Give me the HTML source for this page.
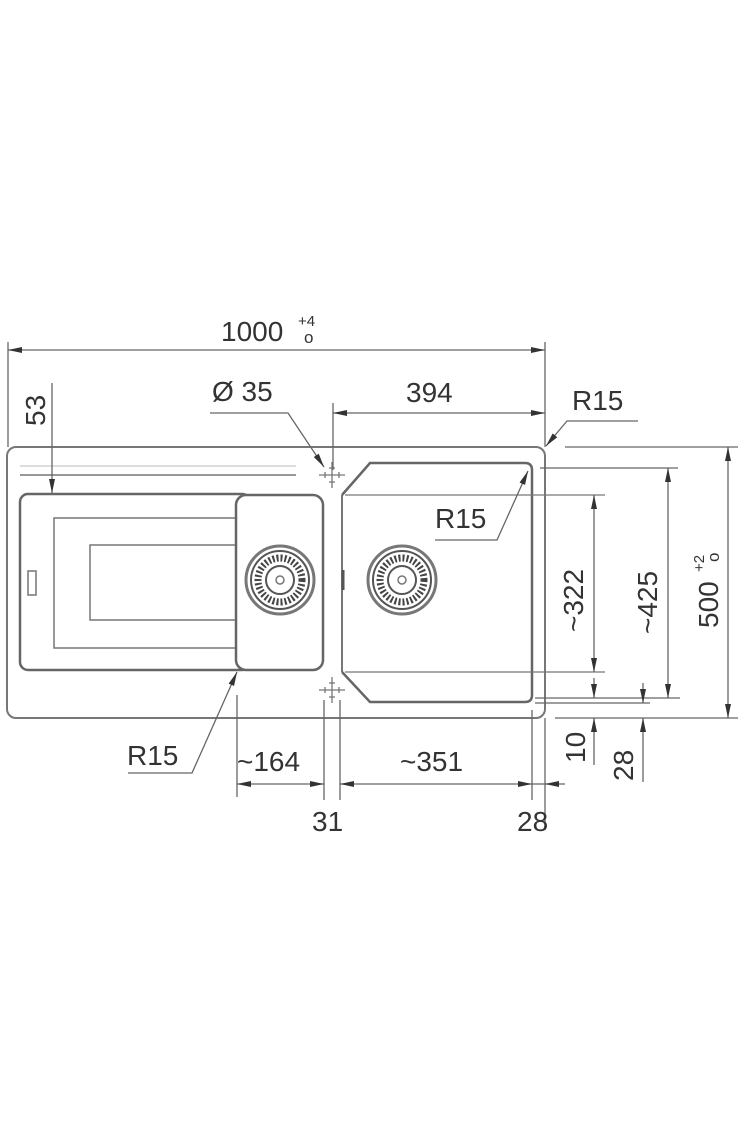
<!DOCTYPE html>
<html><head><meta charset="utf-8"><style>
html,body{margin:0;padding:0;background:#fff;}
svg{display:block;}
text{font-family:"Liberation Sans",sans-serif;fill:#333;}
</style></head><body>
<svg width="742" height="1140" viewBox="0 0 742 1140" xmlns="http://www.w3.org/2000/svg">
<defs>
<marker id="a" markerWidth="14" markerHeight="8" refX="14" refY="4" orient="auto" markerUnits="userSpaceOnUse"><path d="M0,1 L14,4 L0,7 Z" fill="#333"/></marker>
<marker id="s" markerWidth="14" markerHeight="8" refX="0" refY="4" orient="auto" markerUnits="userSpaceOnUse"><path d="M14,1 L0,4 L14,7 Z" fill="#333"/></marker>
<g id="drain">
<circle r="34" fill="none" stroke="#777" stroke-width="3"/>
<circle r="29" fill="none" stroke="#555" stroke-width="2"/>
<circle r="22" fill="none" stroke="#444" stroke-width="7" stroke-dasharray="2 2"/>
<circle r="14" fill="none" stroke="#555" stroke-width="2"/>
<circle r="4" fill="none" stroke="#777" stroke-width="1.5"/>
</g>
<g id="cross" stroke="#777" stroke-width="1.3">
<line x1="-13" y1="0" x2="13" y2="0"/><line x1="0" y1="-13" x2="0" y2="13"/>
<line x1="-7" y1="-3" x2="-7" y2="3"/><line x1="7" y1="-3" x2="7" y2="3"/>
<line x1="-3" y1="-7" x2="3" y2="-7"/><line x1="-3" y1="7" x2="3" y2="7"/>
</g>
</defs>
<g fill="none" stroke="#777" stroke-width="2">
<rect x="7" y="447" width="538" height="271" rx="9"/>
<line x1="20" y1="475" x2="296" y2="475" stroke-width="1.5"/>
<line x1="20" y1="466" x2="296" y2="466" stroke-width="1" stroke="#bbb"/>
<rect x="20" y="494" width="230" height="176" rx="8" stroke="#666" stroke-width="2.5"/>
<path d="M237,518 H54 V648 H237" stroke-width="1.5"/>
<path d="M237,545 H90 V620 H237" stroke-width="1.5"/>
<rect x="28" y="571" width="8" height="24" stroke-width="1.5"/>
<rect x="236" y="495" width="87" height="175" rx="10" fill="#fff" stroke="#666" stroke-width="2.5"/>
<line x1="342" y1="495" x2="342" y2="672" stroke-width="2"/>
<line x1="343" y1="570" x2="343" y2="590" stroke-width="3" stroke="#555"/>
<path d="M342,495 L370,463 H525 Q532,463 532,470 V695 Q532,702 525,702 H370 L342,672" stroke="#666" stroke-width="2.5"/>
<line x1="345" y1="495" x2="605" y2="495" stroke-width="1.3"/>
<line x1="345" y1="672" x2="605" y2="672" stroke-width="1.3"/>
</g>
<use href="#drain" x="280" y="580"/>
<use href="#drain" x="402" y="580"/>
<use href="#cross" x="332" y="475"/>
<use href="#cross" x="332" y="690"/>
<g stroke="#666" stroke-width="1.3" fill="none">
<line x1="8" y1="342" x2="8" y2="447"/>
<line x1="545" y1="342" x2="545" y2="447"/>
<line x1="545" y1="718" x2="545" y2="830"/>
<line x1="8" y1="350" x2="545" y2="350" marker-start="url(#s)" marker-end="url(#a)"/>
<line x1="333" y1="403" x2="333" y2="470"/>
<line x1="333" y1="413" x2="545" y2="413" marker-start="url(#s)" marker-end="url(#a)"/>
<polyline points="210,413 288,413 324,467" marker-end="url(#a)"/>
<line x1="52" y1="383" x2="52" y2="493" marker-end="url(#a)"/>
<polyline points="638,421 567,421 546,446" marker-end="url(#a)"/>
<polyline points="435,540 497,540 528,471" marker-end="url(#a)"/>
<polyline points="128,773 192,773 237,672" marker-end="url(#a)"/>
<line x1="540" y1="468" x2="678" y2="468"/>
<line x1="535" y1="698" x2="680" y2="698"/>
<line x1="535" y1="703" x2="650" y2="703"/>
<line x1="555" y1="718" x2="738" y2="718"/>
<line x1="565" y1="447" x2="738" y2="447"/>
<line x1="594" y1="495" x2="594" y2="672" marker-start="url(#s)" marker-end="url(#a)"/>
<line x1="668" y1="468" x2="668" y2="698" marker-start="url(#s)" marker-end="url(#a)"/>
<line x1="728" y1="447" x2="728" y2="718" marker-start="url(#s)" marker-end="url(#a)"/>
<line x1="594" y1="678" x2="594" y2="698" marker-end="url(#a)"/>
<line x1="594" y1="765" x2="594" y2="718" marker-end="url(#a)"/>
<line x1="643" y1="683" x2="643" y2="703" marker-end="url(#a)"/>
<line x1="643" y1="782" x2="643" y2="718" marker-end="url(#a)"/>
<line x1="237" y1="695" x2="237" y2="797"/>
<line x1="324" y1="700" x2="324" y2="800"/>
<line x1="340" y1="700" x2="340" y2="800"/>
<line x1="532" y1="710" x2="532" y2="800"/>
<line x1="237" y1="784" x2="324" y2="784" marker-start="url(#s)" marker-end="url(#a)"/>
<line x1="340" y1="784" x2="532" y2="784" marker-start="url(#s)" marker-end="url(#a)"/>
<line x1="565" y1="784" x2="545" y2="784" marker-end="url(#a)"/>
<line x1="532" y1="784" x2="545" y2="784"/>
</g>
<g font-size="28">
<text x="221" y="341">1000</text>
<text x="298" y="326" font-size="15">+4</text>
<text x="304" y="343" font-size="17">o</text>
<text x="406" y="402">394</text>
<text x="212" y="401">Ø 35</text>
<text x="572" y="410">R15</text>
<text x="435" y="528">R15</text>
<text x="127" y="765">R15</text>
<text x="237" y="771">~164</text>
<text x="400" y="771">~351</text>
<text x="312" y="831">31</text>
<text x="517" y="831">28</text>
<text transform="translate(45,426) rotate(-90)">53</text>
<text transform="translate(583,632) rotate(-90)">~322</text>
<text transform="translate(657,634) rotate(-90)">~425</text>
<text transform="translate(718,628) rotate(-90)">500</text>
<text transform="translate(704,572) rotate(-90)" font-size="15">+2</text>
<text transform="translate(719,562) rotate(-90)" font-size="17">o</text>
<text transform="translate(585,763) rotate(-90)">10</text>
<text transform="translate(633,781) rotate(-90)">28</text>
</g>
</svg>
</body></html>
